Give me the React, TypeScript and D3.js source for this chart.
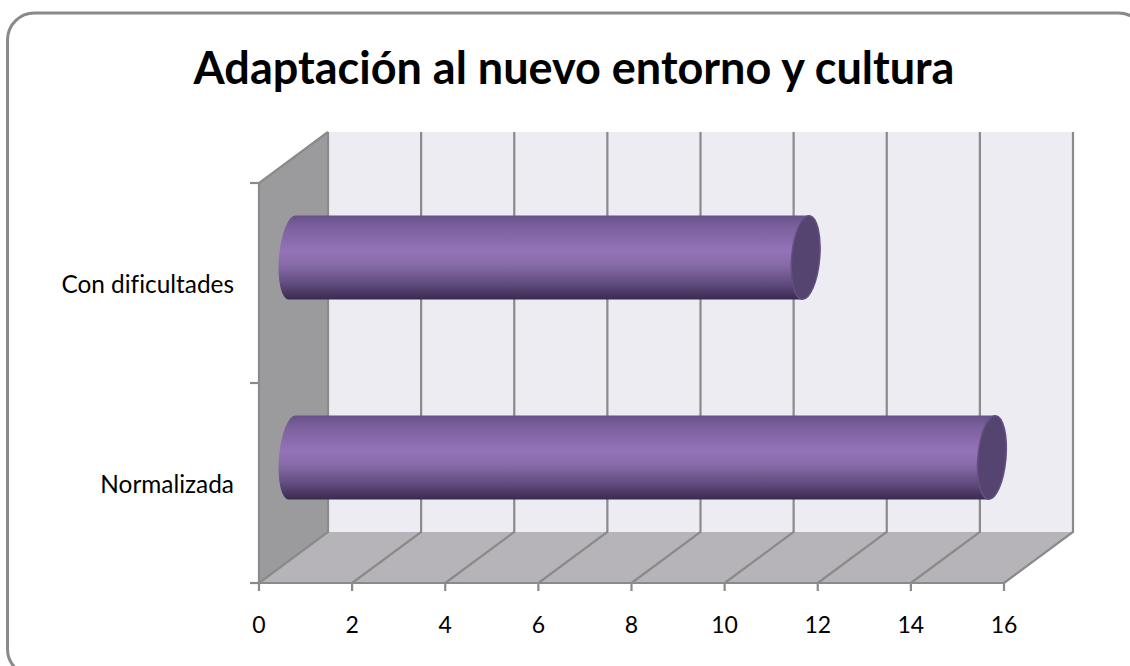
import React from "react";
import * as d3 from "d3";

const title = "Adaptación al nuevo entorno y cultura";
const categories = ["Con dificultades", "Normalizada"];
const values = [11, 15];
const xTicks = [0, 2, 4, 6, 8, 10, 12, 14, 16];

const width = 1130;
const height = 666;

// front plane of the 3D box, the back wall is the same thing moved by depth
const front = { left: 259, right: 1004, top: 183, bottom: 583 };
const depth = { dx: 69, dy: -51 };

const lineColor = "#8a8a8a";

const App: React.FC = () => {
  const x = d3.scaleLinear().domain([0, 16]).range([front.left, front.right]);
  const y = d3
    .scaleBand<string>()
    .domain(categories)
    .range([front.top, front.bottom])
    .paddingInner(0)
    .paddingOuter(0);

  const line = d3.line();
  const barH = 84;
  const capRx = 14.5;

  return (
    <svg
      width={width}
      height={height}
      style={{ position: "absolute", left: 0, top: 0, background: "#fff" }}
    >
      <defs>
        <linearGradient id="tube" x1="0" y1="0" x2="0" y2="1">
          <stop offset="0" stopColor="#66508a" />
          <stop offset="0.12" stopColor="#7a5f9c" />
          <stop offset="0.42" stopColor="#9473b8" />
          <stop offset="0.6" stopColor="#866aa6" />
          <stop offset="0.82" stopColor="#5f4a7d" />
          <stop offset="1" stopColor="#3a2a4e" />
        </linearGradient>
      </defs>

      {/* the frame runs past the right and bottom edge of the picture */}
      <rect
        x={7.5}
        y={13}
        width={1138}
        height={663}
        rx={27}
        fill="#fff"
        stroke={lineColor}
        strokeWidth={3}
      />

      <text
        x={574}
        y={84}
        textAnchor="middle"
        fontFamily="Lato"
        fontWeight={700}
        fontSize={45}
        fill="#000"
      >
        {title}
      </text>

      {/* walls */}
      <path
        d={
          line([
            [front.left, front.top],
            [front.left + depth.dx, front.top + depth.dy],
            [front.left + depth.dx, front.bottom + depth.dy],
            [front.left, front.bottom],
          ]) + "Z"
        }
        fill="#9b9a9c"
      />
      <path
        d={
          line([
            [front.left + depth.dx, front.top + depth.dy],
            [front.right + depth.dx, front.top + depth.dy],
            [front.right + depth.dx, front.bottom + depth.dy],
            [front.left + depth.dx, front.bottom + depth.dy],
          ]) + "Z"
        }
        fill="#eeecf3"
      />
      <path
        d={
          line([
            [front.left, front.bottom],
            [front.left + depth.dx, front.bottom + depth.dy],
            [front.right + depth.dx, front.bottom + depth.dy],
            [front.right, front.bottom],
          ]) + "Z"
        }
        fill="#b6b4b8"
      />

      {/* grid on the floor and back wall */}
      {xTicks.map((t) => (
        <path
          key={t}
          d={
            line([
              [x(t), front.bottom],
              [x(t) + depth.dx, front.bottom + depth.dy],
              [x(t) + depth.dx, front.top + depth.dy],
            ]) as string
          }
          fill="none"
          stroke={lineColor}
          strokeWidth={2.2}
        />
      ))}

      {/* left wall outline and category ticks */}
      <path
        d={
          line([
            [front.left + depth.dx, front.top + depth.dy],
            [front.left, front.top],
            [front.left, front.bottom],
          ]) as string
        }
        fill="none"
        stroke={lineColor}
        strokeWidth={2.2}
      />
      {[front.top, front.top + y.bandwidth(), front.bottom].map((v) => (
        <line
          key={v}
          x1={front.left - 9}
          x2={front.left}
          y1={v}
          y2={v}
          stroke={lineColor}
          strokeWidth={2.2}
        />
      ))}

      {/* x axis */}
      <line
        x1={front.left}
        x2={front.right}
        y1={front.bottom}
        y2={front.bottom}
        stroke={lineColor}
        strokeWidth={2.2}
      />
      {xTicks.map((t) => (
        <g key={t}>
          <line
            x1={x(t)}
            x2={x(t)}
            y1={front.bottom}
            y2={front.bottom + 8}
            stroke={lineColor}
            strokeWidth={2.2}
          />
          <text
            x={x(t)}
            y={633}
            textAnchor="middle"
            fontFamily="Lato"
            fontSize={23}
            fill="#000"
          >
            {t}
          </text>
        </g>
      ))}

      {/* cylinders, placed half way into the box depth */}
      {categories.map((c, i) => {
        const cy = (y(c) as number) + y.bandwidth() / 2 + depth.dy / 2;
        const x0 = x(0) + depth.dx / 2;
        const x1 = x(values[i]) + depth.dx / 2;
        const top = cy - barH / 2;
        const bottom = cy + barH / 2;
        return (
          <g key={c}>
            <path
              d={`M${x0 + 2},${top} L${x1 + 4},${top} L${x1 - 3},${bottom} L${x0 - 5},${bottom} A${capRx - 1.5},${barH / 2} 5 0 1 ${x0 + 2},${top} Z`}
              fill="url(#tube)"
            />
            <ellipse
              cx={x1}
              cy={cy}
              rx={capRx - 0.5}
              ry={barH / 2}
              transform={`rotate(5 ${x1} ${cy})`}
              fill="#55446f"
              stroke="#644f84"
              strokeWidth={1.5}
            />
            <text
              x={234}
              y={(y(c) as number) + y.bandwidth() / 2 + 10}
              textAnchor="end"
              fontFamily="Lato"
              fontSize={24.4}
              style={{ fontVariantLigatures: "none" }}
              fill="#000"
            >
              {c}
            </text>
          </g>
        );
      })}
    </svg>
  );
};

export default App;
